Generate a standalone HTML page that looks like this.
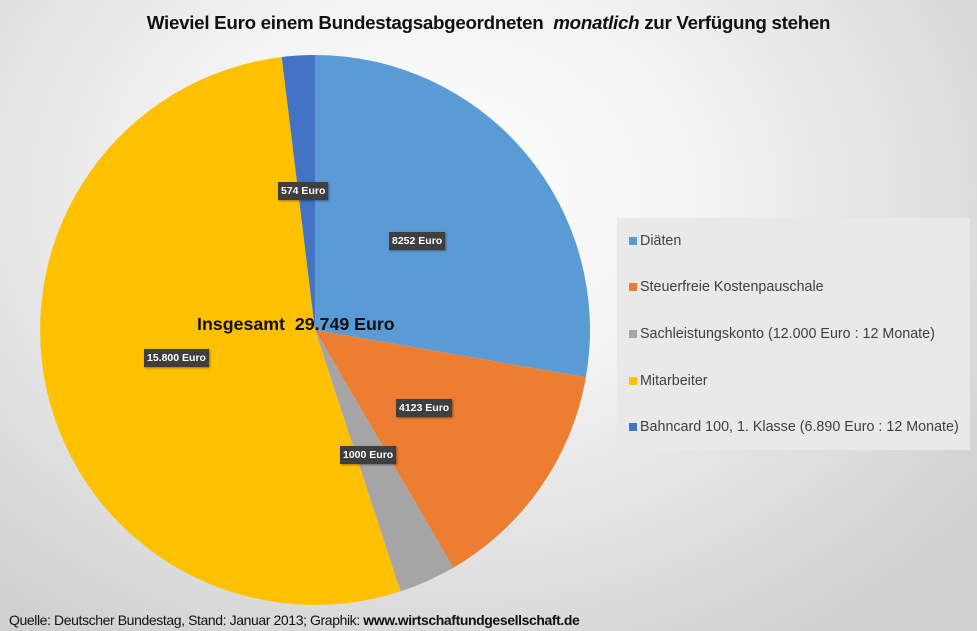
<!DOCTYPE html>
<html><head><meta charset="utf-8"><style>
html,body{margin:0;padding:0}
body{width:977px;height:631px;overflow:hidden;position:relative;font-family:"Liberation Sans",sans-serif;
background:radial-gradient(ellipse 70% 85% at 45% 30%,#ffffff 0%,#f2f2f2 40%,#d0d0d0 100%);}
.t{position:absolute;top:12px;left:0;width:977px;text-align:center;font-weight:bold;font-size:18.8px;letter-spacing:-0.3px;color:#111}
.lg{position:absolute;left:617px;top:218px;width:353px;height:232px;background:#e9e9e9}
.li{position:absolute;left:12px;font-size:14.3px;color:#404040;white-space:nowrap}
.li i{display:inline-block;width:8px;height:8px;margin-right:3px;vertical-align:0px}
.lb{position:absolute;background:#3f3f3f;color:#fff;font-weight:bold;font-size:10.5px;padding:3px 3px;white-space:nowrap;box-shadow:1px 1px 2px rgba(0,0,0,.4)}
.src{position:absolute;left:9px;top:612px;font-size:14px;color:#111;letter-spacing:-0.4px}
</style></head><body>
<div class="t">Wieviel Euro einem Bundestagsabgeordneten&nbsp; <i>monatlich</i> zur Verfügung stehen</div>
<svg width="977" height="631" style="position:absolute;left:0;top:0">
<path d="M315,330 L315,55 A275,275 0 0 1 585.9,377.3 Z" fill="#5b9bd5"/>
<path d="M315,330 L585.9,377.3 A275,275 0 0 1 453.3,567.7 Z" fill="#ed7d31"/>
<path d="M315,330 L453.3,567.7 A275,275 0 0 1 400.4,591.4 Z" fill="#a5a5a5"/>
<path d="M315,330 L400.4,591.4 A275,275 0 1 1 281.7,57 Z" fill="#ffc000"/>
<path d="M315,330 L281.7,57 A275,275 0 0 1 315,55 Z" fill="#4472c4"/>
</svg>
<div class="lb" style="left:389px;top:232px">8252 Euro</div>
<div class="lb" style="left:396px;top:399px">4123 Euro</div>
<div class="lb" style="left:340px;top:446px">1000 Euro</div>
<div class="lb" style="left:144px;top:349px">15.800 Euro</div>
<div class="lb" style="left:278px;top:182px">574 Euro</div>
<div style="position:absolute;left:197px;top:314px;font-weight:bold;font-size:17.8px;color:#111">Insgesamt&nbsp; 29.749 Euro</div>
<div class="lg">
<div class="li" style="top:15px"><i style="background:#5b9bd5"></i>Diäten</div>
<div class="li" style="top:61px"><i style="background:#ed7d31"></i>Steuerfreie Kostenpauschale</div>
<div class="li" style="top:108px"><i style="background:#a5a5a5"></i>Sachleistungskonto (12.000 Euro : 12 Monate)</div>
<div class="li" style="top:155px"><i style="background:#ffc000"></i>Mitarbeiter</div>
<div class="li" style="top:201px"><i style="background:#4472c4"></i>Bahncard 100, 1. Klasse (6.890 Euro : 12 Monate)</div>
</div>
<div class="src">Quelle: Deutscher Bundestag, Stand: Januar 2013; Graphik: <b>www.wirtschaftundgesellschaft.de</b></div>
</body></html>
